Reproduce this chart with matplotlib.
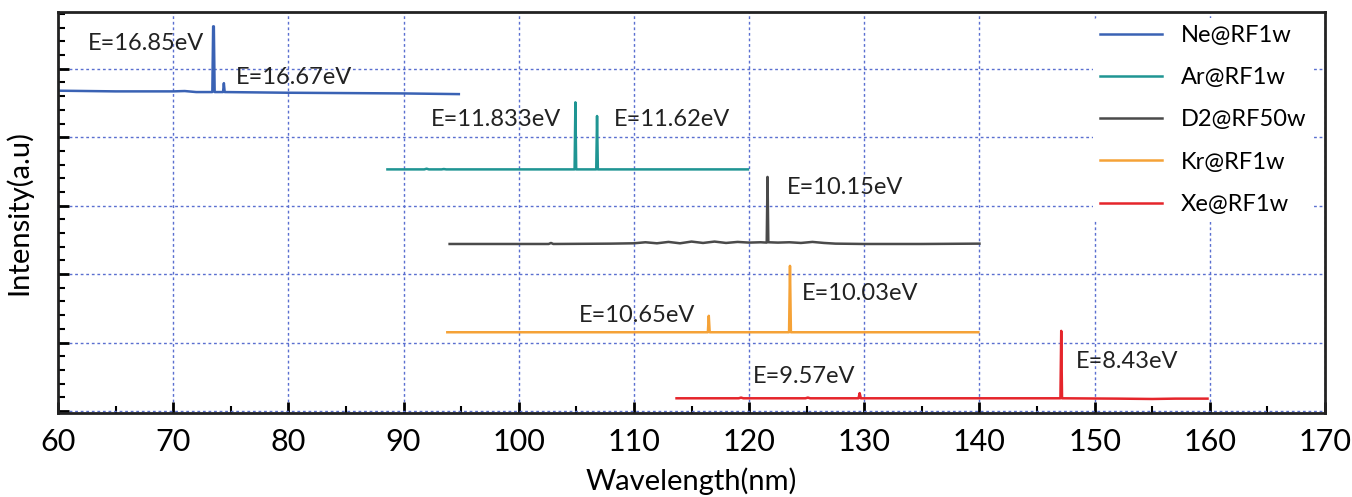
import matplotlib.pyplot as plt
from matplotlib.ticker import MultipleLocator

plt.rcParams['font.family'] = ['Lato', 'DejaVu Sans']

# Spectra (wavelength nm, offset intensity a.u.)
ne_wl = [60, 65, 70, 71, 72, 73.4, 73.47, 73.53, 73.6, 74.33, 74.4, 74.47, 80, 85, 90, 94.8]
ne_y = [4.68, 4.67, 4.67, 4.675, 4.66, 4.66, 5.62, 5.62, 4.66, 4.66, 4.79, 4.66, 4.65, 4.645, 4.64, 4.63]

ar_wl = [88.6, 91.8, 92.0, 92.2, 93.3, 93.5, 93.7, 104.85, 104.92, 104.99, 106.73, 106.8, 106.87, 110, 115, 119.9]
ar_y = [3.53, 3.53, 3.54, 3.53, 3.53, 3.535, 3.53, 3.53, 4.51, 3.53, 3.53, 4.31, 3.53, 3.53, 3.53, 3.53]

d2_wl = [94.0, 100, 102.6, 102.8, 103.0, 108, 110, 111, 112, 113, 114, 115, 116, 117, 118, 119, 120, 121,
         121.53, 121.6, 121.67, 122.5, 123.5, 124.5, 125.5, 126.5, 127.5, 130, 135, 140.0]
d2_y = [2.44, 2.44, 2.44, 2.455, 2.44, 2.445, 2.45, 2.465, 2.45, 2.47, 2.45, 2.475, 2.455, 2.475, 2.455, 2.47,
        2.46, 2.465, 2.46, 3.42, 2.465, 2.46, 2.465, 2.455, 2.47, 2.455, 2.445, 2.44, 2.44, 2.445]

kr_wl = [93.8, 100, 105, 110, 116.42, 116.5, 116.58, 120, 123.47, 123.55, 123.63, 130, 139.9]
kr_y = [1.15, 1.15, 1.15, 1.15, 1.15, 1.39, 1.15, 1.15, 1.15, 2.12, 1.15, 1.15, 1.15]

xe_wl = [113.7, 119.1, 119.3, 119.5, 124.9, 125.1, 125.3, 129.5, 129.6, 129.7, 135, 147.03, 147.1, 147.17,
         152, 155, 157, 159.8]
xe_y = [0.185, 0.185, 0.195, 0.185, 0.185, 0.195, 0.185, 0.185, 0.26, 0.185, 0.185, 0.185, 1.17, 0.185,
        0.18, 0.175, 0.18, 0.18]

labels = ['Ne@RF1w', 'Ar@RF1w', 'D2@RF50w', 'Kr@RF1w', 'Xe@RF1w']
colors = ['#3a62b4', '#1f9593', '#4a4a4a', '#f5a237', '#e5252b']

# peak annotations: text, x, y
notes = [('E=16.85eV', 62.6, 5.37), ('E=16.67eV', 75.4, 4.88),
         ('E=11.833eV', 92.4, 4.26), ('E=11.62eV', 108.3, 4.26),
         ('E=10.15eV', 123.3, 3.26), ('E=10.03eV', 124.6, 1.72),
         ('E=10.65eV', 105.2, 1.40), ('E=9.57eV', 120.3, 0.50),
         ('E=8.43eV', 148.4, 0.72)]

fig = plt.figure(figsize=(13.52, 4.97), dpi=100)
ax = fig.add_axes([58 / 1352, 1 - 413 / 497, (1325 - 58) / 1352, (413 - 12) / 497])

series = [(ne_wl, ne_y), (ar_wl, ar_y), (d2_wl, d2_y), (kr_wl, kr_y), (xe_wl, xe_y)]
for (wl, y), lab, c in zip(series, labels, colors):
    ax.plot(wl, y, color=c, linewidth=1.8, label=lab)

for txt, x, y in notes:
    ax.text(x, y, txt, fontsize=17, va='center', ha='left', color='#222222')

ax.set_xlim(60, 170)
ax.set_ylim(-0.03, 5.83)
ax.xaxis.set_major_locator(MultipleLocator(10))
ax.xaxis.set_minor_locator(MultipleLocator(5))
ax.yaxis.set_major_locator(MultipleLocator(1))
ax.yaxis.set_minor_locator(MultipleLocator(0.2))
ax.tick_params(axis='both', which='major', direction='in', length=8, width=2, labelsize=22, pad=11)
ax.tick_params(axis='both', which='minor', direction='in', length=5, width=1.5)
ax.tick_params(axis='y', labelleft=False)
for s in ax.spines.values():
    s.set_linewidth(2)
    s.set_color('#222222')

ax.grid(True, which='major', color='#5a6fd0', linestyle=(0, (2, 2)), linewidth=1)
ax.set_axisbelow(True)

ax.set_xlabel('Wavelength(nm)', fontsize=21, labelpad=8)
ax.set_ylabel('Intensity(a.u)', fontsize=21)
ax.yaxis.set_label_coords(-0.02, 0.5)

leg = ax.legend(loc='upper right', bbox_to_anchor=(1.0, 1.015), frameon=True, fontsize=17,
                handlelength=2.6, labelspacing=0.9, borderpad=0.3)
leg.get_frame().set_facecolor('white')
leg.get_frame().set_edgecolor('none')
leg.get_frame().set_alpha(1.0)

fig.savefig('out.png', dpi=100, facecolor='white')
